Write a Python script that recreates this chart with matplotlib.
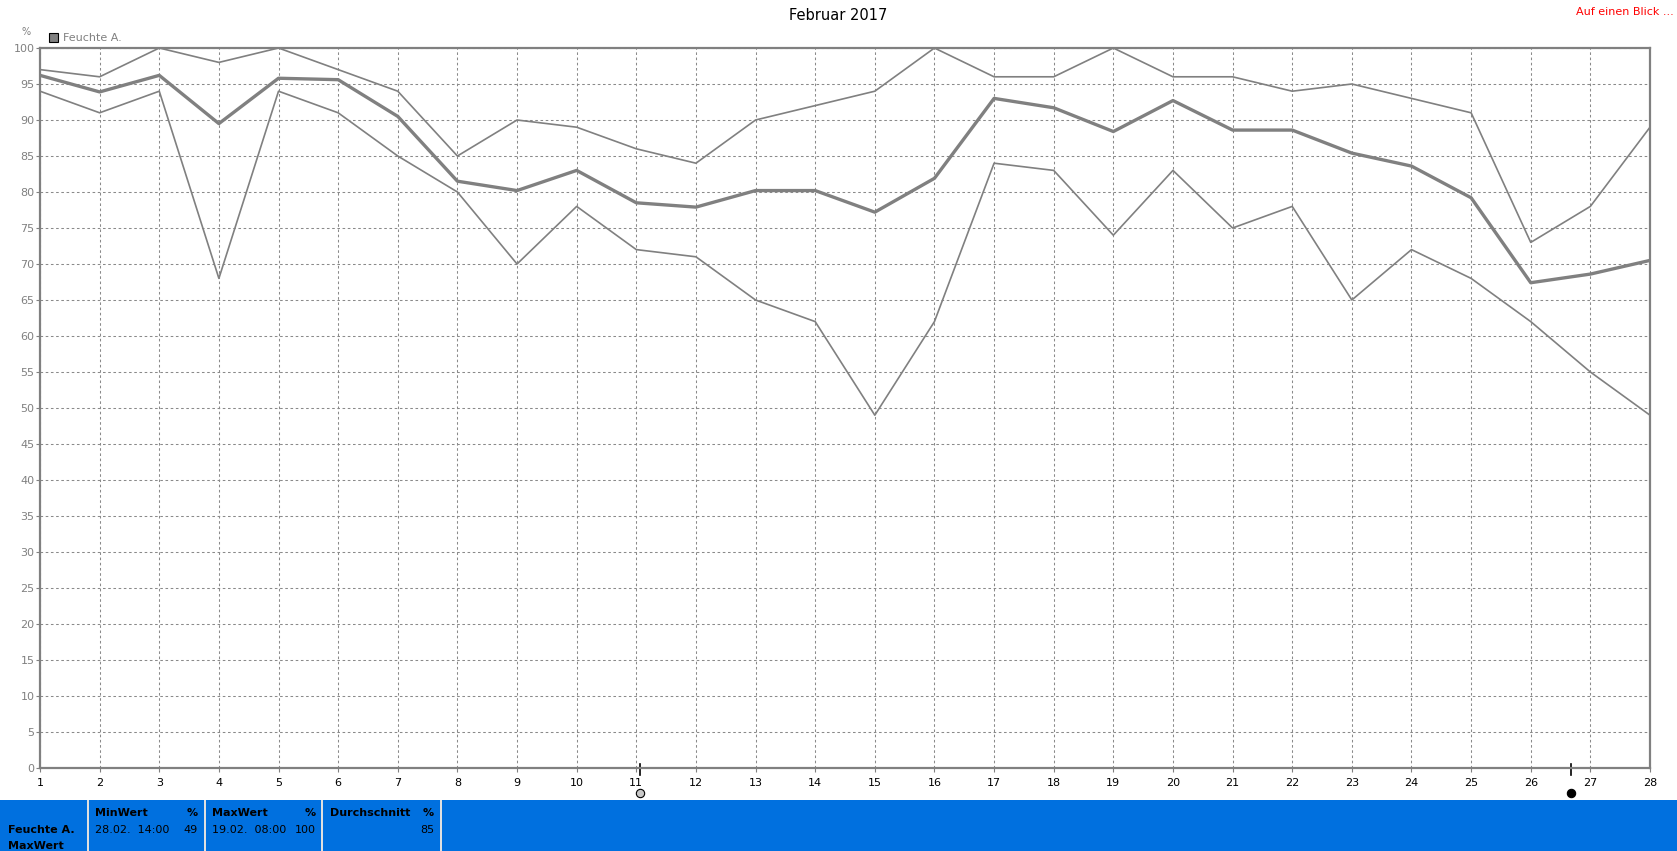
import matplotlib
matplotlib.use("Agg")
import matplotlib.pyplot as plt
import matplotlib.transforms as mtransforms
from matplotlib.patches import Rectangle

# data
days = list(range(1, 29))
feuchte_max = [97, 96, 100, 98, 100, 97, 94, 85, 90, 89, 86, 84, 90, 92, 94, 100,
               96, 96, 100, 96, 96, 94, 95, 93, 91, 73, 78, 89]
feuchte_avg = [96.2, 93.9, 96.2, 89.5, 95.8, 95.6, 90.5, 81.5, 80.2, 83.0, 78.5, 77.9,
               80.2, 80.2, 77.2, 81.9, 93.0, 91.7, 88.4, 92.7, 88.6, 88.6, 85.4, 83.6,
               79.2, 67.4, 68.6, 70.5]
feuchte_min = [94, 91, 94, 68, 94, 91, 85, 80, 70, 78, 72, 71, 65, 62, 49, 62,
               84, 83, 74, 83, 75, 78, 65, 72, 68, 62, 55, 49]
y_ticks = list(range(0, 101, 5))
cursor_days = [11.07, 26.67]
cursor_faces = ["#c8c8c8", "black"]

summary_headers = ["MinWert", "MaxWert", "Durchschnitt"]
summary_dates = ["28.02.  14:00", "19.02.  08:00", ""]
summary_values = ["49", "100", "85"]

W, H = 1677, 851
GRAY = "#808080"


def px(x, y):
    # pixel position (from top-left) -> figure fraction
    return x / W, 1 - y / H


fig = plt.figure(figsize=(W / 100, H / 100), dpi=100)
ax = fig.add_axes([40 / W, (H - 768) / H, 1610 / W, 720 / H])

ax.set_xlim(1, 28)
ax.set_ylim(0, 100)
ax.set_xticks(days)
ax.set_yticks(y_ticks)
ax.tick_params(axis="x", colors="black", labelsize=8, length=3, color=GRAY, pad=4)
ax.tick_params(axis="y", labelcolor=GRAY, labelsize=8, length=3, color=GRAY, pad=1)
ax.grid(True, color="#8a8a8a", linestyle=(0, (2.5, 2.5)), linewidth=0.75)
ax.set_axisbelow(True)
for s in ax.spines.values():
    s.set_color(GRAY)
    s.set_linewidth(1.6)

ax.plot(days, feuchte_max, color=GRAY, lw=1.2, zorder=3)
ax.plot(days, feuchte_min, color=GRAY, lw=1.2, zorder=3)
ax.plot(days, feuchte_avg, color=GRAY, lw=2.4, zorder=3)

# cursor markers under the x axis
trans = mtransforms.blended_transform_factory(ax.transData, ax.transAxes)
for cx, fc in zip(cursor_days, cursor_faces):
    ax.plot([cx, cx], [-0.010, 0.006], transform=trans, color="black", lw=1.2, clip_on=False)
    ax.plot([cx], [-0.035], transform=trans, marker="o", ms=6, mfc=fc, mec="black",
            mew=0.8, clip_on=False)

# titles and legend
fig.text(*px(838, 15), "Februar 2017", ha="center", va="center", fontsize=10.5)
fig.text(*px(1674, 12), "Auf einen Blick ...", ha="right", va="center", fontsize=8, color="red")
fig.text(*px(26, 32), "%", ha="center", va="center", fontsize=7, color=GRAY)
fig.patches.append(Rectangle(px(49, 42), 9 / W, 9 / H, transform=fig.transFigure,
                             facecolor=GRAY, edgecolor="black", lw=0.8))
fig.text(*px(63, 38), "Feuchte A.", ha="left", va="center", fontsize=8, color=GRAY)

# summary panel at the bottom
fig.patches.append(Rectangle((0, 0), 1, (H - 800) / H, transform=fig.transFigure,
                             facecolor="#0070df", edgecolor="none"))
for sx in [88, 205, 322, 441]:
    fig.patches.append(Rectangle(px(sx - 1, 851), 2 / W, 51 / H, transform=fig.transFigure,
                                 facecolor="#e0e0e0", edgecolor="none"))
fig.text(*px(8, 830), "Feuchte A.", ha="left", va="center", fontsize=8, weight="bold")
fig.text(*px(8, 846), "MaxWert", ha="left", va="center", fontsize=8, weight="bold")
col_left = [95, 212, 330]
col_right = [198, 316, 434]
for hdr, dt, val, xl, xr in zip(summary_headers, summary_dates, summary_values, col_left, col_right):
    fig.text(*px(xl, 813), hdr, ha="left", va="center", fontsize=8, weight="bold")
    fig.text(*px(xr, 813), "%", ha="right", va="center", fontsize=8, weight="bold")
    fig.text(*px(xl, 830), dt, ha="left", va="center", fontsize=8)
    fig.text(*px(xr, 830), val, ha="right", va="center", fontsize=8)

fig.savefig("out.png", dpi=100)
